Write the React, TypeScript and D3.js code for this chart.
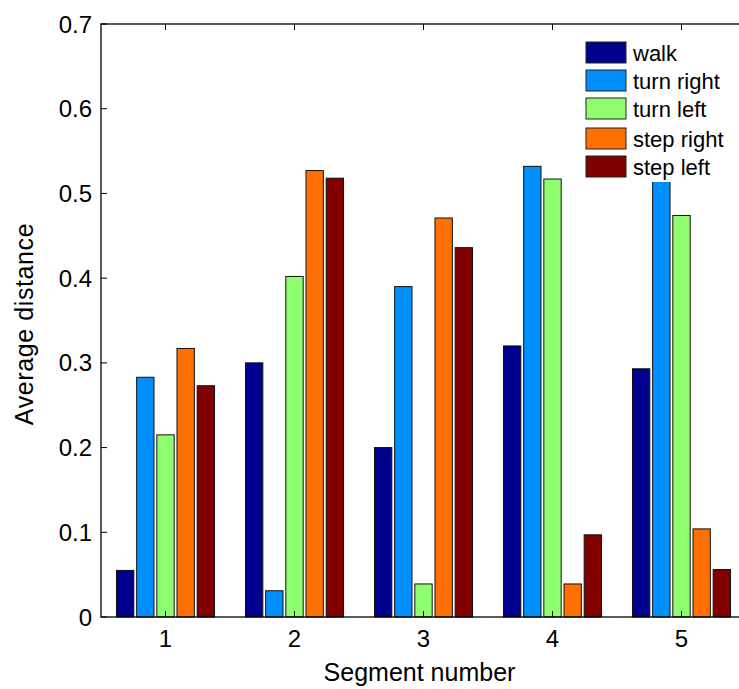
import React from 'react';
import * as d3 from 'd3';

const segments = [1, 2, 3, 4, 5];
const series = ['walk', 'turn right', 'turn left', 'step right', 'step left'];
const colors = ['#00008f', '#008fff', '#8fff70', '#ff7000', '#800000'];
// values per segment, in series order
const walk = [0.055, 0.300, 0.200, 0.320, 0.293];
const turnRight = [0.283, 0.031, 0.390, 0.532, 0.560];
const turnLeft = [0.215, 0.402, 0.039, 0.517, 0.474];
const stepRight = [0.317, 0.527, 0.471, 0.039, 0.104];
const stepLeft = [0.273, 0.518, 0.436, 0.097, 0.056];
const yTicks = [0, 0.1, 0.2, 0.3, 0.4, 0.5, 0.6, 0.7];

const W = 739;
const H = 689;
const left = 101, right = 746, top = 24, bottom = 617;
const font = 'Liberation Sans, Arial, Helvetica, sans-serif';

export default function App() {
  const values = [walk, turnRight, turnLeft, stepRight, stepLeft];
  const x = d3.scaleLinear().domain([0.5, 5.5]).range([left, right]);
  const y = d3.scaleLinear().domain([0, 0.7]).range([bottom, top]);
  const step = x(2) - x(1);
  const x1 = d3.scaleBand<string>()
    .domain(series)
    .range([-0.38 * step, 0.38 * step])
    .paddingInner(0.14);
  const tick = 6;

  return (
    <svg width={W} height={H} style={{ display: 'block', position: 'absolute', left: 0, top: 0 }}
      fontFamily={font}>
      <rect width={W} height={H} fill="#fff" />
      {/* bars */}
      {segments.map((s, i) => (
        <g key={s} transform={`translate(${x(s)},0)`}>
          {series.map((name, j) => (
            <rect key={name}
              x={x1(name)}
              y={y(values[j][i])}
              width={x1.bandwidth()}
              height={y(0) - y(values[j][i])}
              fill={colors[j]}
              stroke="#111"
              strokeWidth={1} />
          ))}
        </g>
      ))}
      {/* axes box */}
      <rect x={left} y={top} width={right - left} height={bottom - top}
        fill="none" stroke="#000" strokeWidth={1.3} />
      {yTicks.map(t => (
        <g key={t}>
          <line x1={left} x2={left + tick} y1={y(t)} y2={y(t)} stroke="#000" />
          <line x1={right} x2={right - tick} y1={y(t)} y2={y(t)} stroke="#000" />
          <text x={left - 9} y={y(t)} dy="0.36em" textAnchor="end" fontSize={24}>
            {t === 0 ? '0' : d3.format('.1f')(t)}
          </text>
        </g>
      ))}
      {segments.map(s => (
        <g key={s}>
          <line x1={x(s)} x2={x(s)} y1={top} y2={top + tick} stroke="#000" />
          <line x1={x(s)} x2={x(s)} y1={bottom} y2={bottom - tick} stroke="#000" />
          <text x={x(s)} y={647} textAnchor="middle" fontSize={24}>{s}</text>
        </g>
      ))}
      <text x={(left + right) / 2 - 4} y={681} textAnchor="middle" fontSize={25}>Segment number</text>
      <text transform={`translate(33,324) rotate(-90)`} textAnchor="middle" fontSize={25}
        letterSpacing={0.6}>Average distance</text>
      {/* legend */}
      <g>
        <rect x={578} y={33} width={170} height={149} fill="#fff" />
        {series.map((name, j) => {
          const ys = [42, 70, 98, 128, 156];
          return (
            <g key={name} transform={`translate(586,${ys[j]})`}>
              <rect width={40} height={21} fill={colors[j]} stroke="#222" strokeWidth={1} />
              <text x={47} y={11} dy="0.36em" fontSize={22}>{name}</text>
            </g>
          );
        })}
      </g>
    </svg>
  );
}
